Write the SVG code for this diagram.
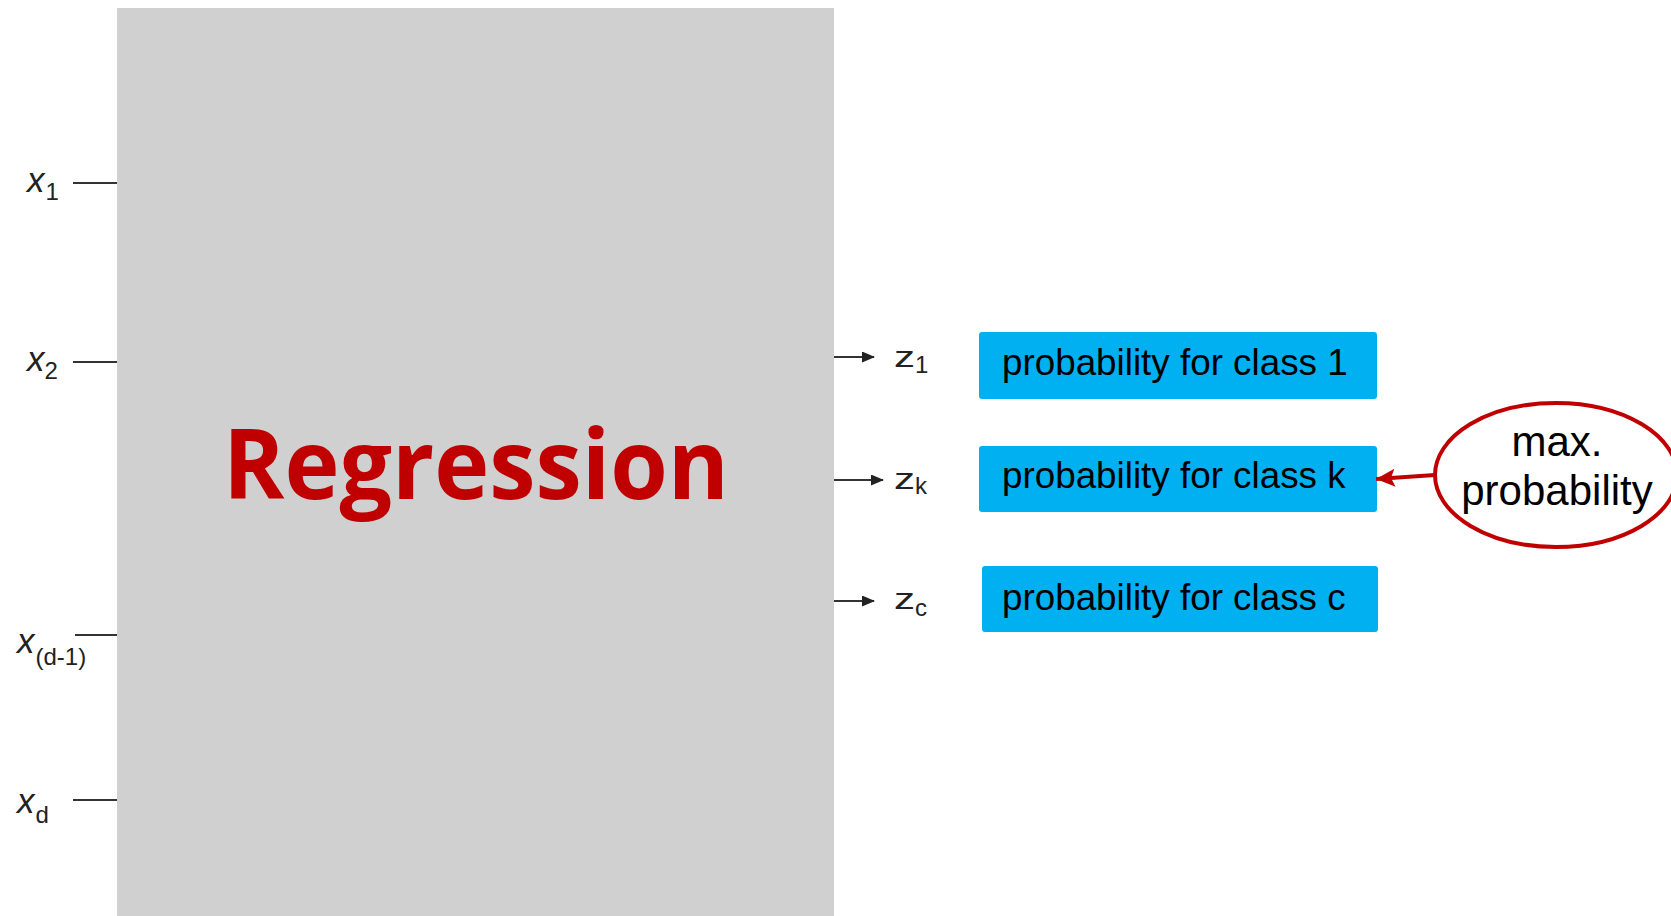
<svg xmlns="http://www.w3.org/2000/svg" width="1671" height="916" viewBox="0 0 1671 916">
  <style>
    .lbl { font-family: "Liberation Sans", Arial, sans-serif; fill: #222; }
    .var { font-style: italic; font-size: 35px; }
    .sub { font-size: 24px; }
    .zsub { font-size: 24px; }
    .wire { stroke: #333; stroke-width: 2; fill: none; }
    .out { stroke: #333; stroke-width: 2; fill: none; marker-end: url(#blackArrow); }
    .cls { fill: #00b0f0; }
    .clsText { font-family: "Liberation Sans", Arial, sans-serif; font-size: 36.8px; fill: #000; }
    .ovalText { font-family: "Liberation Sans", Arial, sans-serif; font-size: 42px; fill: #000; }
  </style>
  <defs>
    <marker id="blackArrow" markerWidth="13" markerHeight="11" refX="12" refY="5.5" orient="auto" markerUnits="userSpaceOnUse">
      <path d="M0,0 L13,5.5 L0,11 Z" fill="#222"/>
    </marker>
    <marker id="redArrow" markerWidth="20" markerHeight="20" refX="19" refY="10" orient="auto" markerUnits="userSpaceOnUse">
      <path d="M0,1 L19,10 L0,19 L4,10 Z" fill="#c00000"/>
    </marker>
  </defs>

  <rect width="1671" height="916" fill="#ffffff"/>

  <!-- regression block -->
  <g id="regression">
    <rect x="117" y="8" width="717" height="910" fill="#d0d0d0"/>
    <text x="223" y="499" font-family="'Open Sans', 'Noto Sans', sans-serif" font-weight="bold" font-size="97" fill="#c00000" textLength="506" lengthAdjust="spacingAndGlyphs">Regression</text>
  </g>

  <!-- inputs -->
  <g id="input-x1">
    <text class="lbl" x="27" y="192"><tspan class="var">x</tspan><tspan class="sub" dx="1" dy="8">1</tspan></text>
  </g>
  <g id="input-x2">
    <text class="lbl" x="27" y="371"><tspan class="var">x</tspan><tspan class="sub" dx="0" dy="8">2</tspan></text>
  </g>
  <g id="input-xd-1">
    <text class="lbl" x="17" y="653"><tspan class="var">x</tspan><tspan class="sub" font-size="25" dx="1" dy="12">(d-1)</tspan></text>
  </g>
  <g id="input-xd">
    <text class="lbl" x="17" y="813"><tspan class="var">x</tspan><tspan class="sub" dx="1" dy="10">d</tspan></text>
  </g>

  <!-- outputs -->
  <g id="output-z1">
    <text class="lbl" font-size="29" transform="translate(894 367) scale(1.45 1)">z</text>
    <text class="lbl zsub" x="915" y="373">1</text>
  </g>
  <g id="output-zk">
    <text class="lbl" font-size="29" transform="translate(894 489) scale(1.45 1)">z</text>
    <text class="lbl zsub" x="915" y="494">k</text>
  </g>
  <g id="output-zc">
    <text class="lbl" font-size="29" transform="translate(894 609) scale(1.45 1)">z</text>
    <text class="lbl zsub" x="915" y="616">c</text>
  </g>

  <!-- class probability boxes -->
  <g id="class-1">
    <rect class="cls" x="979" y="332" width="398" height="67" rx="3"/>
    <text class="clsText" x="1002" y="375">probability for class 1</text>
  </g>
  <g id="class-k">
    <rect class="cls" x="979" y="446" width="398" height="66" rx="3"/>
    <text class="clsText" x="1002" y="488">probability for class k</text>
  </g>
  <g id="class-c">
    <rect class="cls" x="982" y="566" width="396" height="66" rx="3"/>
    <text class="clsText" x="1002" y="610">probability for class c</text>
  </g>

  <!-- max probability marker -->
  <g id="max-probability">
    <ellipse cx="1556" cy="475" rx="121" ry="72" fill="#ffffff" stroke="#c00000" stroke-width="4"/>
    <text class="ovalText" x="1557" y="456" text-anchor="middle">max.</text>
    <text class="ovalText" x="1557" y="505" text-anchor="middle">probability</text>
  </g>

  <!-- connectors -->
  <g id="connectors">
    <line class="wire" x1="73" y1="183" x2="117" y2="183"/>
    <line class="wire" x1="73" y1="362" x2="117" y2="362"/>
    <line class="wire" x1="75" y1="635" x2="117" y2="635"/>
    <line class="wire" x1="73" y1="800" x2="117" y2="800"/>
    <line class="out" x1="834" y1="357" x2="874" y2="357"/>
    <line class="out" x1="834" y1="480" x2="883" y2="480"/>
    <line class="out" x1="834" y1="601" x2="874" y2="601"/>
    <line x1="1435" y1="475" x2="1376" y2="479" stroke="#c00000" stroke-width="4" marker-end="url(#redArrow)"/>
  </g>
</svg>
